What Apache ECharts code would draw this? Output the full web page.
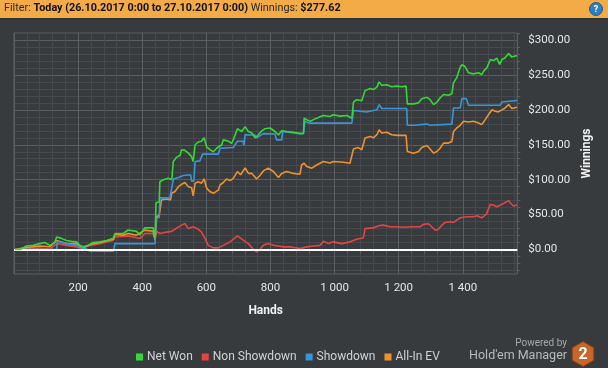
<!DOCTYPE html>
<html>
<head>
<meta charset="utf-8">
<script src="https://cdn.jsdelivr.net/npm/echarts@6/dist/echarts.min.js"></script>
<style>
html,body{margin:0;padding:0;background:#383b3e;}
#chart{width:608px;height:368px;}
</style>
</head>
<body>
<div id="chart"></div>
<script>
// ---- Data ----
const netWonHands = [3,20,37,60,80,96,112,127,133,148,164,179,195,205,216,231,247,268,289,310,315,341,356,382,393,408,434,440,443,453,455,466,481,492,497,507,518,523,533,544,554,559,565,575,585,593,601,611,622,632,648,653,669,679,684,697,710,721,731,742,752,762,773,783,799,814,825,835,851,872,892,903,905,913,924,934,950,965,986,996,1017,1038,1054,1059,1069,1085,1095,1111,1121,1132,1139,1147,1163,1178,1194,1210,1223,1227,1246,1262,1272,1288,1298,1309,1319,1329,1340,1355,1366,1371,1381,1392,1397,1407,1418,1433,1449,1459,1465,1475,1486,1496,1506,1515,1522,1532,1543,1553,1564,1569];
const netWonValues = [0,0,5,6,8.5,10,6,10,18,16,13,12,11,6,4,6,10,11,13,16,23,23,28,26,21,31,31,16,67,68,97,100,102,100,126,132,135,143,142,138,133,126,150,154,155,160,147,143,140,145,150,157,155,152,157,173,169,176,169,167,160,164,170,173,174,169,164,170,169,168,166,166,188,186,183.5,186,189,192,190.5,193,191,192,188,211,214.5,213,227.5,230.5,229,232.5,240,235,236,233,234,233,234,208.5,208.5,210,216,218,214.5,207.5,211,217,222,221,223,238.5,246,261,264.5,262,253,251.5,253,250.5,255.5,260,272,270.5,274,265,272,274.5,280.5,275.5,277,277.62];

const nonShowdownHands = [3,39,80,112,133,164,195,211,237,268,310,315,356,393,408,434,440,445,455,476,492,502,523,533,544,559,575,585,596,606,622,637,653,674,697,715,731,747,757,762,767,778,793,809,825,840,861,892,913,934,955,965,981,996,1022,1048,1069,1080,1090,1095,1121,1137,1152,1173,1194,1215,1246,1267,1277,1293,1303,1314,1324,1335,1345,1361,1371,1381,1392,1413,1433,1444,1459,1465,1473,1486,1496,1506,1517,1527,1543,1550,1558,1569];
const nonShowdownValues = [0,2,2,0.5,8.5,6,3.8,1.4,6,8.5,13.4,18,19.6,15.8,23,23,15.8,26,23,25,26,29,35,37.3,30,32.6,29,25,15.8,6,2.4,2.4,6,11,19.6,13.4,8.5,0,-3.4,-5,0,6,8.5,6,5,3.8,3.8,1.4,3.8,5,6,12,8.5,11,8.5,11,14.8,15.8,17,30,31,34,35,32.6,32.6,32,32.6,32.6,36,36.9,32.6,27.7,29,35,38.8,39.8,38.8,42,45.5,47,47,48.3,45.5,43.6,50.3,64.6,63.7,61.3,63.7,66,70,66,62.3,63.7];

const showdownHands = [3,133,135,164,195,211,225,237,310,315,440,443,453,455,486,492,497,513,528,551,554,561,565,580,588,637,643,684,697,715,717,721,751,757,778,814,819,835,838,892,903,908,920,1054,1059,1100,1132,1139,1147,1225,1227,1246,1251,1288,1298,1366,1371,1392,1397,1411,1418,1517,1522,1569];
const showdownValues = [0,0,12,8.5,6,2.4,1,-2.5,-2.5,8.5,8.5,45,46,74,74,88,101,103,106,107,98,98,126,127,136.6,136.6,145,146,155,155,149,164.4,164,160,166,165.5,157,157,169,166,166.6,184,181,181,199,197,200,207.5,202,202,178,178,179.6,179.6,178,179.6,202.7,202.7,216,216,206.6,206.6,211.3,213.3];

const allInEvHands = [3,37,80,112,133,164,195,205,216,247,268,310,315,341,356,382,408,434,440,445,453,460,476,488,492,502,513,523,533,544,554,559,565,575,585,593,601,611,622,637,643,653,663,674,684,697,707,721,731,742,757,767,778,793,809,825,835,851,872,892,897,905,913,929,944,965,986,996,1028,1048,1054,1059,1074,1085,1095,1111,1121,1132,1139,1147,1163,1178,1194,1223,1227,1246,1262,1272,1288,1298,1309,1319,1329,1340,1355,1366,1371,1381,1392,1402,1418,1433,1449,1459,1470,1480,1491,1501,1511,1522,1532,1543,1553,1569];
const allInEvValues = [0,3,5,4,13,8.5,8.5,3.8,3,8.5,10,14.8,21.5,20.6,23,20.6,27.8,26.3,13.4,47,49,71,72.3,71,80.5,83,90,93.4,96,90,88.6,77,95,97,95,101,87.7,83,80.5,85,92.5,96,101,98.7,102,111.6,107,117,109,109,101,106,112.6,116.5,111.7,103,109,111.7,109,107.8,121,123.6,119,116.5,121,126,124,126,125,123.6,126,144,146,142.8,159.6,162,160,164.4,171.5,166.8,168,164.4,163.5,163.4,140.4,138,140.4,146,149,144,138,140.4,145,152.4,152.4,154.8,169,174,177.8,183.6,182.6,183.6,181.2,178.8,186,193,200,198,197,200,202.7,207.5,201.8,203.8];

const xTickLabels = [200,400,600,800,1000,1200,1400];
const yTickLabels = [0,50,100,150,200,250,300];
const yMinorTicks = [-30,-20,-10,10,20,30,40,60,70,80,90,110,120,130,140,160,170,180,190,210,220,230,240,260,270,280,290,310];

// ---- Styling ----
const FONT = 'Roboto, "Open Sans", sans-serif';
const BG = '#383b3e';
const MAJOR = '#5b5e62';
const MINOR = '#46494d';
const COLORS = {net:'#35d935', non:'#e34545', sd:'#3a95d6', ev:'#ee922f'};

function pairs(h, v){ return h.map((x,i)=>[x, v[i]]); }
function fmtHands(v){ return String(v).replace(/\B(?=(\d{3})+(?!\d))/g, ' '); }

const chart = echarts.init(document.getElementById('chart'), null, {renderer:'canvas'});

const hexC = [583, 354], hexR = 12.5;
const hexPts = [];
for (let k = 0; k < 6; k++) {
  const a = Math.PI/2 + k*Math.PI/3;
  hexPts.push([hexC[0] + hexR*Math.cos(a), hexC[1] - hexR*Math.sin(a)]);
}

const lineSeries = (name, h, v, color, z) => ({
  name, type:'line', data: pairs(h, v), showSymbol:false, symbol:'none',
  lineStyle:{color, width:1.6}, itemStyle:{color}, z, animation:false
});

const option = {
  backgroundColor: BG,
  animation: false,
  textStyle:{fontFamily: FONT},
  grid: {left:14, top:33, width:503.3, height:241, show:true, borderColor:MAJOR, borderWidth:1, containLabel:false},
  legend: {
    data:['Net Won','Non Showdown','Showdown','All-In EV'],
    left:131, top:346, icon:'rect', itemWidth:7, itemHeight:7, itemGap:9,
    textStyle:{color:'#d2d2d2', fontSize:12, fontFamily:FONT, padding:[0,0,0,-1]}
  },
  xAxis: {
    type:'value', min:0, max:1570, interval:40,
    axisLine:{show:false},
    axisTick:{show:true, length:4, lineStyle:{color:MAJOR}},
    axisLabel:{color:'#e6e6e6', fontSize:11.5, margin:8, fontFamily:FONT,
      formatter: v => (xTickLabels.indexOf(v) >= 0 ? fmtHands(v) : '')},
    splitLine:{show:true, lineStyle:{color:[MAJOR, MINOR, MINOR, MINOR, MINOR], width:1}},
    name:'Hands', nameLocation:'middle', nameGap:31,
    nameTextStyle:{color:'#f0f0f0', fontSize:12, fontWeight:'bold', fontFamily:FONT}
  },
  yAxis: [{
    type:'value', position:'right', min:-35, max:310, interval:5,
    axisLine:{show:false},
    axisTick:{show:true, length:6, customValues:yTickLabels, lineStyle:{color:MAJOR}},
    axisLabel:{color:'#e6e6e6', fontSize:11.5, margin:11, fontFamily:FONT, customValues:yTickLabels,
      formatter: v => '$' + Number(v).toFixed(2)},
    splitLine:{show:true, lineStyle:{color:MAJOR, width:1}},
    name:'Winnings', nameLocation:'middle', nameRotate:90, nameGap:59,
    nameTextStyle:{color:'#f0f0f0', fontSize:12, fontWeight:'bold', fontFamily:FONT}
  },{
    type:'value', position:'right', min:-35, max:310, interval:5,
    axisLine:{show:false},
    axisTick:{show:true, length:3, customValues:yMinorTicks, lineStyle:{color:MAJOR}},
    axisLabel:{show:false},
    splitLine:{show:true, lineStyle:{color:MINOR, width:1}}
  }],
  series: [
    lineSeries('Non Showdown', nonShowdownHands, nonShowdownValues, COLORS.non, 2),
    lineSeries('All-In EV', allInEvHands, allInEvValues, COLORS.ev, 3),
    lineSeries('Showdown', showdownHands, showdownValues, COLORS.sd, 4),
    Object.assign(lineSeries('Net Won', netWonHands, netWonValues, COLORS.net, 5), {
      markLine:{silent:true, symbol:['none','none'], label:{show:false},
        lineStyle:{color:'#ffffff', width:2.2, type:'solid'}, data:[{yAxis:0}], animation:false}
    })
  ],
  graphic: [
    {type:'rect', left:0, top:0, shape:{width:608, height:18}, style:{fill:'#f2ab46'}, z:10},
    {type:'rect', left:0, top:18, shape:{width:608, height:2}, style:{fill:'#303336'}, z:10},
    {type:'text', left:4, top:3, z:11, style:{
      text:'{a|Filter: }{b|Today (26.10.2017 0:00 to 27.10.2017 0:00)}{a| Winnings: }{b|$277.62}',
      rich:{
        a:{fill:'#2a2a2a', fontSize:10.8, fontFamily:FONT},
        b:{fill:'#111111', fontSize:10.8, fontWeight:'bold', fontFamily:FONT}
      }}},
    {type:'circle', shape:{cx:596, cy:9, r:6.5}, style:{fill:'#2d7fc1', stroke:'#1d5f95', lineWidth:1}, z:11},
    {type:'text', z:12, style:{text:'?', x:596, y:9.5, align:'center', verticalAlign:'middle', fill:'#ffffff', fontSize:9, fontWeight:'bold', fontFamily:FONT}},
    {type:'text', z:11, style:{text:'Powered by', x:567, y:343, align:'right', verticalAlign:'middle', fill:'#a8a8a8', fontSize:10, fontFamily:FONT}},
    {type:'text', z:11, style:{text:"Hold'em Manager", x:567, y:355.5, align:'right', verticalAlign:'middle', fill:'#b9b9b9', fontSize:12.5, fontFamily:FONT}},
    {type:'polygon', z:11, shape:{points:hexPts}, style:{fill:'#c8652b', stroke:'#8a4018', lineWidth:1}},
    {type:'text', z:12, style:{text:'2', x:583, y:355, align:'center', verticalAlign:'middle', fill:'#ffffff', fontSize:16, fontWeight:'bold', fontFamily:FONT}}
  ]
};
chart.setOption(option);
</script>
</body>
</html>
